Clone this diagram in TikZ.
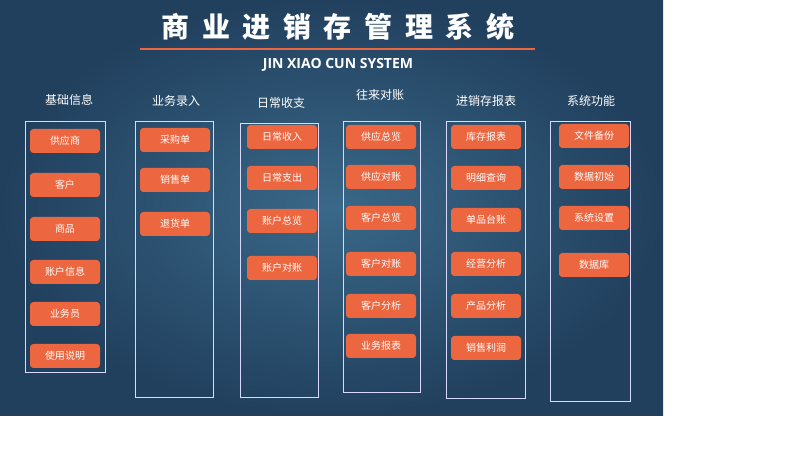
\documentclass[tikz,border=0pt]{standalone}
\usepackage{fontspec}
\setmainfont{Noto Sans CJK SC}
\newfontfamily\latinf{Open Sans}
\begin{document}
\begin{tikzpicture}[x=0.75pt,y=-0.75pt,
  col/.style={draw=white!85!blue, line width=0.6pt},
  btn/.style={fill=btnc, draw=none, rounded corners=2.5pt, minimum width=52.5pt, minimum height=18pt, text=white, font=\fontsize{7.5}{8}\selectfont, inner sep=0pt},
  hdr/.style={text=white, font=\fontsize{9}{10}\selectfont}]
\definecolor{btnc}{HTML}{EC6640}
\definecolor{bgin}{HTML}{3A6888}\definecolor{bgout}{HTML}{21405E}
\useasboundingbox (0,0) rectangle (800,463);
\fill[white] (0,0) rectangle (800,463);
\shade[inner color=bgin, outer color=bgout] (0,0) rectangle (663,415);
\node[text=white, font=\fontsize{21}{22}\bfseries\selectfont] (title) at (338,27) {商\hspace{0.45em}业\hspace{0.45em}进\hspace{0.45em}销\hspace{0.45em}存\hspace{0.45em}管\hspace{0.45em}理\hspace{0.45em}系\hspace{0.45em}统};
\draw[btnc, line width=0.8pt] (140,49) -- (535,49);
\node[text=white, font=\latinf\fontsize{10.5}{11}\bfseries\selectfont] (sub) at (338,65) {JIN XIAO CUN SYSTEM};
\foreach \n/\x/\y/\t in {h1/69/100/基础信息,h2/176/101/业务录入,h3/281/103/日常收支,h4/380/95/往来对账,h5/486/101/进销存报表,h6/591/101/系统功能}
  \node[hdr] (\n) at (\x,\y) {\t};
\foreach \n/\a/\b/\c/\d in {c1/25/121/105/372,c2/135/121/213/397,c3/240/123/318/397,c4/343/121/420/392,c5/446/121/525/398,c6/550/121/630/401}
  \draw[col] (\a,\b) rectangle (\c,\d);
\foreach \n/\y/\t in {a1/141/供应商,a2/185/客户,a3/229/商品,a4/272/账户信息,a5/314/业务员,a6/356/使用说明}
  \node[btn] (\n) at (65,\y) {\t};
\foreach \n/\y/\t in {b1/140/采购单,b2/180/销售单,b3/224/退货单}
  \node[btn] (\n) at (175,\y) {\t};
\foreach \n/\y/\t in {d1/137/日常收入,d2/178/日常支出,d3/221/账户总览,d4/268/账户对账}
  \node[btn] (\n) at (282,\y) {\t};
\foreach \n/\y/\t in {e1/137/供应总览,e2/177/供应对账,e3/218/客户总览,e4/264/客户对账,e5/306/客户分析,e6/346/业务报表}
  \node[btn] (\n) at (381,\y) {\t};
\foreach \n/\y/\t in {f1/137/库存报表,f2/178/明细查询,f3/220/单品台账,f4/264/经营分析,f5/306/产品分析,f6/348/销售利润}
  \node[btn] (\n) at (486,\y) {\t};
\foreach \n/\y/\t in {g1/136/文件备份,g2/177/数据初始,g3/218/系统设置,g4/265/数据库}
  \node[btn] (\n) at (594,\y) {\t};
\end{tikzpicture}
\end{document}
